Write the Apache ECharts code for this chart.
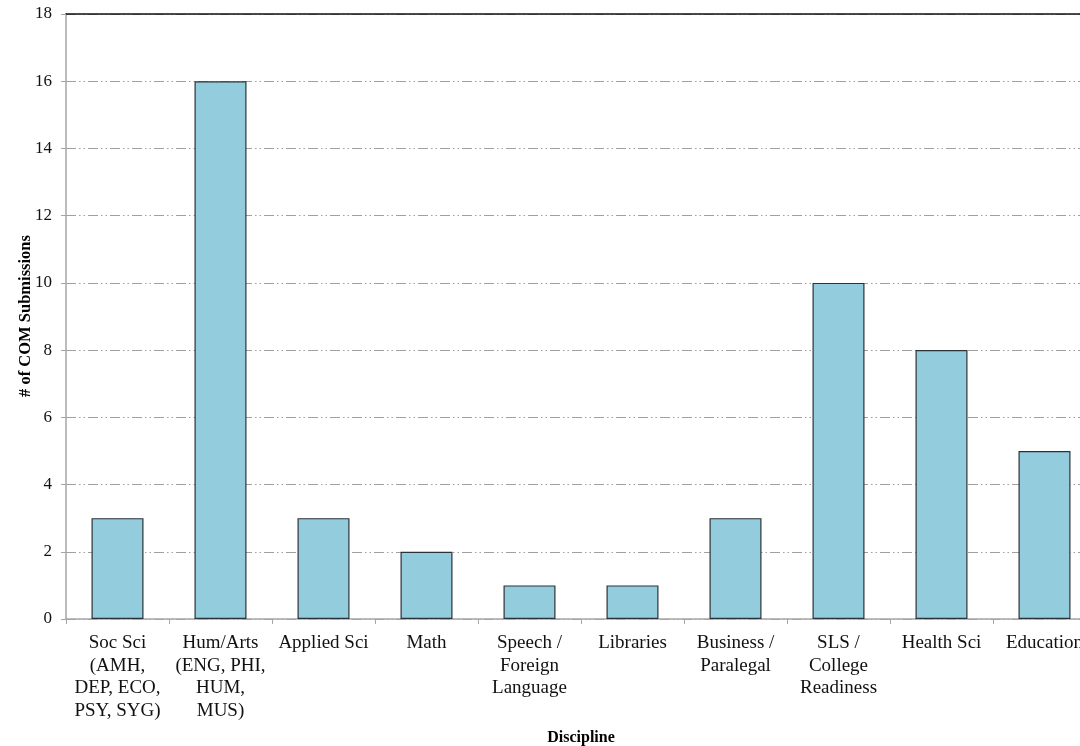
<!DOCTYPE html>
<html>
<head>
<meta charset="utf-8">
<script src="https://cdn.jsdelivr.net/npm/echarts@6/dist/echarts.min.js"></script>
<style>
  html, body { margin: 0; padding: 0; background: #fff; }
  #chart { width: 1080px; height: 746px; }
</style>
</head>
<body>
<div id="chart"></div>
<script>
// Submissions per discipline
const categories = [
  'Soc Sci\n(AMH,\nDEP, ECO,\nPSY, SYG)',
  'Hum/Arts\n(ENG, PHI,\nHUM,\nMUS)',
  'Applied Sci',
  'Math',
  'Speech /\nForeign\nLanguage',
  'Libraries',
  'Business /\nParalegal',
  'SLS /\nCollege\nReadiness',
  'Health Sci',
  'Education'
];
const submissions = [3, 16, 3, 2, 1, 1, 3, 10, 8, 5];
const yTicks = { min: 0, max: 18, interval: 2 };
const yTitle = '# of COM Submissions';
const xTitle = 'Discipline';

const serif = '"Liberation Serif", "DejaVu Serif", serif';
const chart = echarts.init(document.getElementById('chart'), null, { renderer: 'canvas' });

chart.setOption({
  animation: false,
  backgroundColor: '#ffffff',
  // the plot runs past the right edge of the canvas, clipping the last label
  grid: { left: 66, top: 14, right: -16, bottom: 127, containLabel: false, outerBoundsMode: 'none' },
  graphic: [
    {
      type: 'text',
      x: 26,
      y: 316,
      rotation: Math.PI / 2,
      style: {
        text: yTitle,
        font: 'bold 16.5px ' + serif,
        fill: '#000',
        align: 'center',
        verticalAlign: 'middle'
      }
    }
  ],
  xAxis: [
    {
      type: 'category',
      data: categories,
      position: 'bottom',
      name: xTitle,
      nameLocation: 'middle',
      nameGap: 111,
      nameTextStyle: { fontFamily: serif, fontSize: 16, fontWeight: 'bold', color: '#000' },
      axisLine: { show: true, lineStyle: { color: '#a6a6a6', width: 1.5 } },
      axisTick: { show: true, alignWithLabel: false, length: 5, lineStyle: { color: '#a6a6a6' } },
      axisLabel: {
        interval: 0,
        margin: 13,
        fontFamily: serif,
        fontSize: 19,
        lineHeight: 22.5,
        color: '#111',
        align: 'center'
      },
      splitLine: { show: false }
    },
    {
      type: 'category',
      data: categories,
      position: 'top',
      axisLine: { show: true, lineStyle: { color: '#111', width: 1.5 } },
      axisTick: { show: false },
      axisLabel: { show: false }
    }
  ],
  yAxis: {
    type: 'value',
    min: yTicks.min,
    max: yTicks.max,
    interval: yTicks.interval,
    axisLine: { show: true, lineStyle: { color: '#a6a6a6', width: 1.5 } },
    axisTick: { show: true, length: 5, lineStyle: { color: '#a6a6a6' } },
    axisLabel: { margin: 14, fontFamily: serif, fontSize: 17, color: '#111' },
    splitLine: {
      show: true,
      lineStyle: { color: '#a0a0a0', width: 1, type: [10, 3, 1.5, 3, 1.5, 3] }
    }
  },
  series: [
    {
      type: 'bar',
      data: submissions,
      barWidth: 52,
      itemStyle: { color: '#93cddd', borderColor: '#2b3338', borderWidth: 1.2 }
    }
  ]
});
</script>
</body>
</html>
